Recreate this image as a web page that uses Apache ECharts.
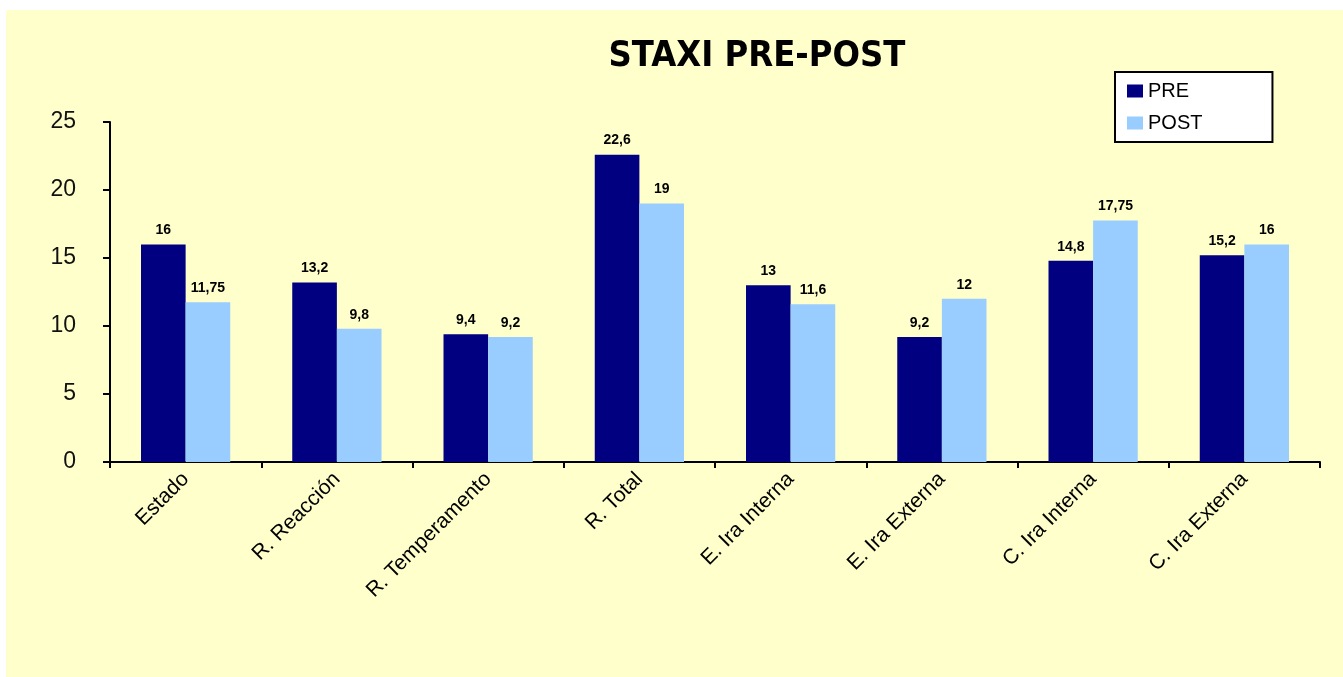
<!DOCTYPE html>
<html>
<head>
<meta charset="utf-8">
<script src="https://cdn.jsdelivr.net/npm/echarts@6/dist/echarts.min.js"></script>
<style>
  html, body { margin: 0; padding: 0; background: #ffffff; width: 1343px; height: 677px; overflow: hidden; }
  #c { position: absolute; left: 6px; top: 10px; width: 1337px; height: 667px; background: #FFFFCC; }
</style>
</head>
<body>
<div id="c"></div>
<script>
var categories = ["Estado", "R. Reacción", "R. Temperamento", "R. Total", "E. Ira Interna", "E. Ira Externa", "C. Ira Interna", "C. Ira Externa"];
var preValues = [16, 13.2, 9.4, 22.6, 13, 9.2, 14.8, 15.2];
var postValues = [11.75, 9.8, 9.2, 19, 11.6, 12, 17.75, 16];
var yTicks = { min: 0, max: 25, interval: 5 };

var chart = echarts.init(document.getElementById('c'), null, { renderer: 'canvas' });
function fmt(p) { return String(p.value).replace('.', ','); }
var labelStyle = { show: true, position: 'top', distance: 7, formatter: fmt, fontSize: 14, fontWeight: 'bold', color: '#000', fontFamily: 'Liberation Sans, Arial, sans-serif' };
chart.setOption({
  backgroundColor: '#FFFFCC',
  animation: false,
  title: {
    text: 'STAXI PRE-POST',
    left: 746, top: 24, textAlign: 'center',
    textStyle: { fontSize: 36, fontWeight: 'bold', color: '#000', fontFamily: 'DejaVu Sans Condensed, DejaVu Sans, sans-serif' }
  },
  legend: {
    orient: 'vertical', left: 1109, top: 62,
    padding: [9, 70, 9, 12], itemGap: 12,
    itemWidth: 16, itemHeight: 13, icon: 'rect',
    backgroundColor: '#ffffff', borderColor: '#000', borderWidth: 2,
    textStyle: { fontSize: 20, color: '#000', fontFamily: 'Liberation Sans, Arial, sans-serif' },
    data: ['PRE', 'POST']
  },
  grid: { left: 104, right: 23, top: 112, bottom: 215, containLabel: false },
  xAxis: {
    type: 'category', data: categories,
    axisLine: { lineStyle: { color: '#000', width: 2 } },
    axisTick: { show: true, length: 6, lineStyle: { color: '#000', width: 2 } },
    axisLabel: { rotate: 45, fontSize: 21, color: '#000', margin: 14, fontFamily: 'Liberation Sans, Arial, sans-serif' }
  },
  yAxis: {
    type: 'value', min: yTicks.min, max: yTicks.max, interval: yTicks.interval,
    axisLine: { show: true, lineStyle: { color: '#000', width: 2 } },
    axisTick: { show: true, length: 7, lineStyle: { color: '#000', width: 2 } },
    splitLine: { show: false },
    axisLabel: { fontSize: 23, color: '#111', margin: 34, fontFamily: 'Liberation Sans, Arial, sans-serif' }
  },
  series: [
    { name: 'PRE', type: 'bar', data: preValues, barGap: '0%', barCategoryGap: '41%', itemStyle: { color: '#000080' }, label: labelStyle },
    { name: 'POST', type: 'bar', data: postValues, itemStyle: { color: '#99CCFF' }, label: labelStyle }
  ]
});
</script>
</body>
</html>
